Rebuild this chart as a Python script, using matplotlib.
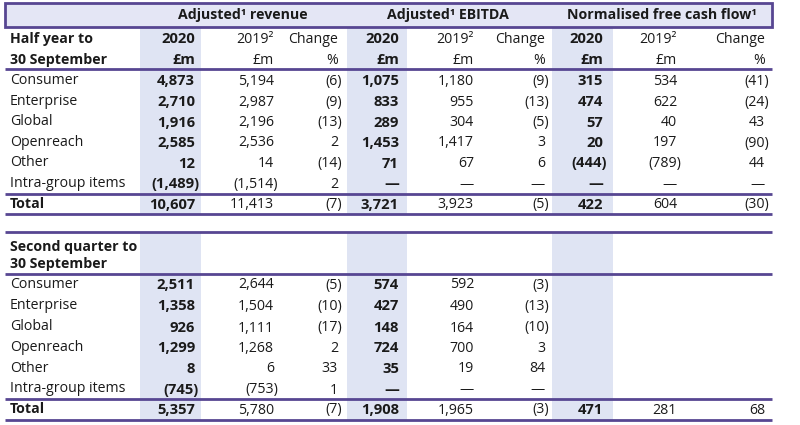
import matplotlib.pyplot as plt
from matplotlib.patches import Rectangle

plt.rcParams['font.family'] = ['Open Sans', 'DejaVu Sans']

# ---- data ----
segments = ["Consumer", "Enterprise", "Global", "Openreach", "Other", "Intra-group items"]
groups = ["Adjusted\u00b9 revenue", "Adjusted\u00b9 EBITDA", "Normalised free cash flow\u00b9"]

# half year to 30 September
h_rev_2020 = ["4,873", "2,710", "1,916", "2,585", "12", "(1,489)", "10,607"]
h_rev_2019 = ["5,194", "2,987", "2,196", "2,536", "14", "(1,514)", "11,413"]
h_rev_chg = ["(6)", "(9)", "(13)", "2", "(14)", "2", "(7)"]
h_ebitda_2020 = ["1,075", "833", "289", "1,453", "71", "\u2014", "3,721"]
h_ebitda_2019 = ["1,180", "955", "304", "1,417", "67", "\u2014", "3,923"]
h_ebitda_chg = ["(9)", "(13)", "(5)", "3", "6", "\u2014", "(5)"]
h_fcf_2020 = ["315", "474", "57", "20", "(444)", "\u2014", "422"]
h_fcf_2019 = ["534", "622", "40", "197", "(789)", "\u2014", "604"]
h_fcf_chg = ["(41)", "(24)", "43", "(90)", "44", "\u2014", "(30)"]

# second quarter to 30 September
q_rev_2020 = ["2,511", "1,358", "926", "1,299", "8", "(745)", "5,357"]
q_rev_2019 = ["2,644", "1,504", "1,111", "1,268", "6", "(753)", "5,780"]
q_rev_chg = ["(5)", "(10)", "(17)", "2", "33", "1", "(7)"]
q_ebitda_2020 = ["574", "427", "148", "724", "35", "\u2014", "1,908"]
q_ebitda_2019 = ["592", "490", "164", "700", "19", "\u2014", "1,965"]
q_ebitda_chg = ["(3)", "(13)", "(10)", "3", "84", "\u2014", "(3)"]
q_fcf_2020 = ["", "", "", "", "", "", "471"]
q_fcf_2019 = ["", "", "", "", "", "", "281"]
q_fcf_chg = ["", "", "", "", "", "", "68"]

# ---- layout (pixel coords) ----
LINE = "#574692"
HEAD_BG = "#e4e6f5"
SHADE = "#dfe4f3"
TXT = "#1a1a1a"
FS = 10.2

col_right = [195, 274, 338, 399, 474, 545, 603, 677, 765]
shade_cols = [(140, 201), (347, 407), (552, 613)]
group_cx = [243, 448, 662]
X0, X1 = 5, 772

fig = plt.figure(figsize=(8, 4.25), dpi=100)
ax = fig.add_axes([0, 0, 1, 1])
ax.set_xlim(0, 800)
ax.set_ylim(425, 0)
ax.axis('off')


def hline(y):
    ax.plot([X0, X1], [y, y], color=LINE, lw=2, solid_capstyle='butt', zorder=3)


def num(x, y, s, bold=False):
    # closing brackets hang past the column edge
    if s.endswith(")"):
        x += 4
    ax.text(x, y, s, ha='right', va='center', fontsize=FS + (0.4 if bold else 0),
            color=TXT, fontweight='bold' if bold else 'normal')


def block(top, title, rows_y, total_y, cols, shade_top, shade_bot, sep_y, bottom_y):
    for (a, b) in shade_cols:
        ax.add_patch(Rectangle((a, shade_top), b - a, shade_bot - shade_top,
                               facecolor=SHADE, edgecolor='none', zorder=1))
    for lbl, y in title:
        ax.text(10, y, lbl, ha='left', va='center', fontsize=FS,
                fontweight='bold', color=TXT)
    for i, seg in enumerate(segments):
        ax.text(10, rows_y[i], seg, ha='left', va='center', fontsize=FS, color=TXT)
        for j, c in enumerate(cols):
            num(col_right[j], rows_y[i] + 1, c[i], bold=(j % 3 == 0))
    ax.text(10, total_y, "Total", ha='left', va='center', fontsize=FS,
            fontweight='bold', color=TXT)
    for j, c in enumerate(cols):
        num(col_right[j], total_y + 1, c[6], bold=(j % 3 == 0))
    hline(top)
    hline(sep_y)
    hline(bottom_y)


# header band
ax.add_patch(Rectangle((X0, 3), X1 - X0, 24, facecolor=HEAD_BG, edgecolor=LINE,
                       lw=2, zorder=2))
for cx, g in zip(group_cx, groups):
    ax.text(cx, 15, g, ha='center', va='center', fontsize=FS, fontweight='bold',
            color=TXT, zorder=4)

# half year block
half_cols = [h_rev_2020, h_rev_2019, h_rev_chg, h_ebitda_2020, h_ebitda_2019,
             h_ebitda_chg, h_fcf_2020, h_fcf_2019, h_fcf_chg]
block(69, [("Half year to", 39), ("30 September", 60)],
      [80, 101, 121.5, 142, 162.5, 183], 203.5, half_cols,
      27, 214, 193.5, 214)
for k in range(3):
    b = 3 * k
    num(col_right[b], 39, "2020", bold=True)
    num(col_right[b + 1], 39, "2019\u00b2")
    num(col_right[b + 2], 39, "Change")
    num(col_right[b], 60, "\u00a3m", bold=True)
    num(col_right[b + 1], 60, "\u00a3m")
    num(col_right[b + 2], 60, "%")

# second quarter block
q_cols = [q_rev_2020, q_rev_2019, q_rev_chg, q_ebitda_2020, q_ebitda_2019,
          q_ebitda_chg, q_fcf_2020, q_fcf_2019, q_fcf_chg]
block(232, [("Second quarter to", 247), ("30 September", 264)],
      [284, 305.5, 327, 347.5, 368, 389], 409, q_cols,
      232, 420, 399, 420)
hline(274)

fig.savefig("out.png", dpi=100, facecolor='white')
